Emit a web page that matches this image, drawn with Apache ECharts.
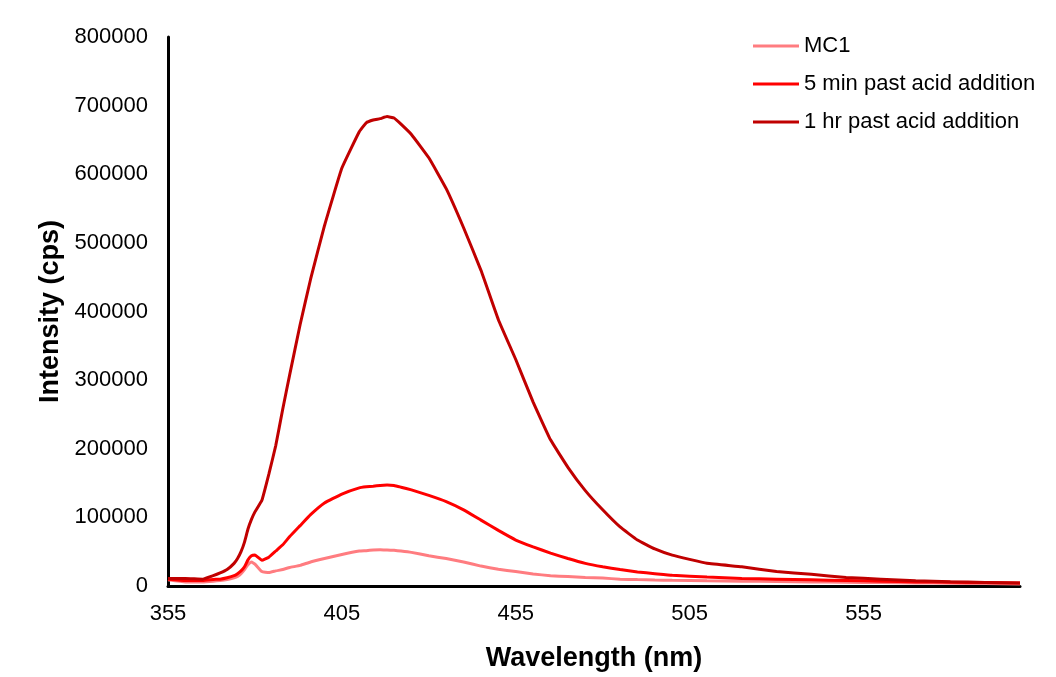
<!DOCTYPE html>
<html>
<head>
<meta charset="utf-8">
<title>Fluorescence emission spectra</title>
<script src="https://cdn.jsdelivr.net/npm/echarts@6/dist/echarts.min.js"></script>
<style>
  html, body { margin: 0; padding: 0; background: #ffffff; overflow: hidden; }
  #chart { width: 1056px; height: 677px; }
</style>
</head>
<body>
<div id="chart"></div>
<script>
// Emission wavelengths (nm) shared by all three spectra
const wavelengths = [355, 360, 365, 368, 370, 372, 374, 375, 376, 377, 378, 379, 380, 382, 384, 386, 388, 390, 393, 396,
  400, 405, 410, 412, 414, 416, 418, 420, 422, 425, 430, 435, 440, 445, 450, 455, 460, 465, 470, 475,
  480, 485, 490, 495, 500, 510, 520, 530, 540, 550, 560, 570, 580, 590, 600];

// Intensity (cps) for each sample
const mc1 = [9000, 6000, 6000, 7000, 8000, 9500, 12000, 14000, 18000, 24000, 31000, 35000, 32000, 21000, 19500, 22000, 24000, 27000, 30000, 35000,
  40000, 46000, 51000, 51500, 52500, 53000, 52500, 52000, 51000, 49000, 44000, 40000, 35000, 29000, 24500, 21000, 17500, 15000, 13800, 12500,
  11500, 10000, 9300, 8700, 8200, 7500, 7000, 6500, 6000, 5500, 5000, 4500, 4000, 3500, 3000];

const min5 = [10000, 8000, 8000, 9500, 10000, 12000, 15000, 18000, 22000, 28000, 38000, 44000, 45000, 37500, 42000, 51000, 60000, 72000, 88000, 104000,
  121000, 134000, 143000, 144500, 145500, 146500, 147000, 146500, 144000, 140000, 132000, 123000, 111000, 96000, 81000, 67000, 57000, 48000, 40000, 33000,
  28000, 24000, 20500, 18000, 15500, 13000, 11000, 10000, 9000, 8000, 7000, 6000, 5500, 5000, 4500];

const hr1 = [11000, 11000, 10000, 15000, 19000, 24000, 33000, 40000, 50000, 64000, 83000, 97000, 108000, 125000, 163000, 205000, 258000, 308000, 381000, 447000,
  525000, 609000, 662000, 675000, 679000, 681000, 684000, 682000, 673000, 658000, 624000, 579000, 522000, 460000, 388000, 330000, 268000, 213000, 173000, 139000,
  111000, 86000, 67000, 54000, 45000, 33000, 28000, 21000, 17000, 12500, 10000, 7500, 6200, 5200, 4300];

// Axis tick values
const xTicks = [355, 405, 455, 505, 555];
const yTicks = [0, 100000, 200000, 300000, 400000, 500000, 600000, 700000, 800000];

const seriesNames = ['MC1', '5 min past acid addition', '1 hr past acid addition'];
const seriesColors = ['#FF7C80', '#FF0000', '#C00000'];
const seriesValues = [mc1, min5, hr1];

const FONT = '"Liberation Sans", Arial, Helvetica, sans-serif';

const chart = echarts.init(document.getElementById('chart'), null, { renderer: 'canvas' });

chart.setOption({
  backgroundColor: '#ffffff',
  animation: false,
  grid: { left: 168, right: 36, top: 37, bottom: 80, containLabel: false },
  legend: {
    orient: 'vertical',
    left: 753,
    top: 35,
    padding: 0,
    icon: 'rect',
    itemWidth: 46,
    itemHeight: 3,
    itemGap: 16,
    textStyle: { fontFamily: FONT, fontSize: 22, color: '#000', lineHeight: 22 },
    data: seriesNames
  },
  xAxis: {
    type: 'value',
    min: 355,
    max: 600,
    interval: 50,
    name: 'Wavelength (nm)',
    nameLocation: 'middle',
    nameGap: 59,
    nameTextStyle: { fontFamily: FONT, fontSize: 27, fontWeight: 'bold', color: '#000' },
    axisLine: { show: true, onZero: false, lineStyle: { color: '#000', width: 3 } },
    axisTick: { show: false },
    splitLine: { show: false },
    axisLabel: {
      showMaxLabel: false,
      margin: 17,
      fontFamily: FONT, fontSize: 22, color: '#000',
      formatter: v => (xTicks.indexOf(v) >= 0 ? String(v) : '')
    }
  },
  yAxis: {
    type: 'value',
    min: 0,
    max: 800000,
    interval: 100000,
    name: 'Intensity (cps)',
    nameLocation: 'middle',
    nameGap: 99,
    nameRotate: 90,
    nameTextStyle: { fontFamily: FONT, fontSize: 27, fontWeight: 'bold', color: '#000' },
    axisLine: { show: true, lineStyle: { color: '#000', width: 3 } },
    axisTick: { show: false },
    splitLine: { show: false },
    axisLabel: {
      margin: 20,
      fontFamily: FONT, fontSize: 22, color: '#000',
      formatter: v => (yTicks.indexOf(v) >= 0 ? String(v) : '')
    }
  },
  series: seriesNames.map((name, i) => ({
    name: name,
    type: 'line',
    showSymbol: false,
    symbol: 'none',
    smooth: 0.1,
    color: seriesColors[i],
    lineStyle: { color: seriesColors[i], width: 3 },
    data: wavelengths.map((w, j) => [w, seriesValues[i][j]])
  }))
});
</script>
</body>
</html>
